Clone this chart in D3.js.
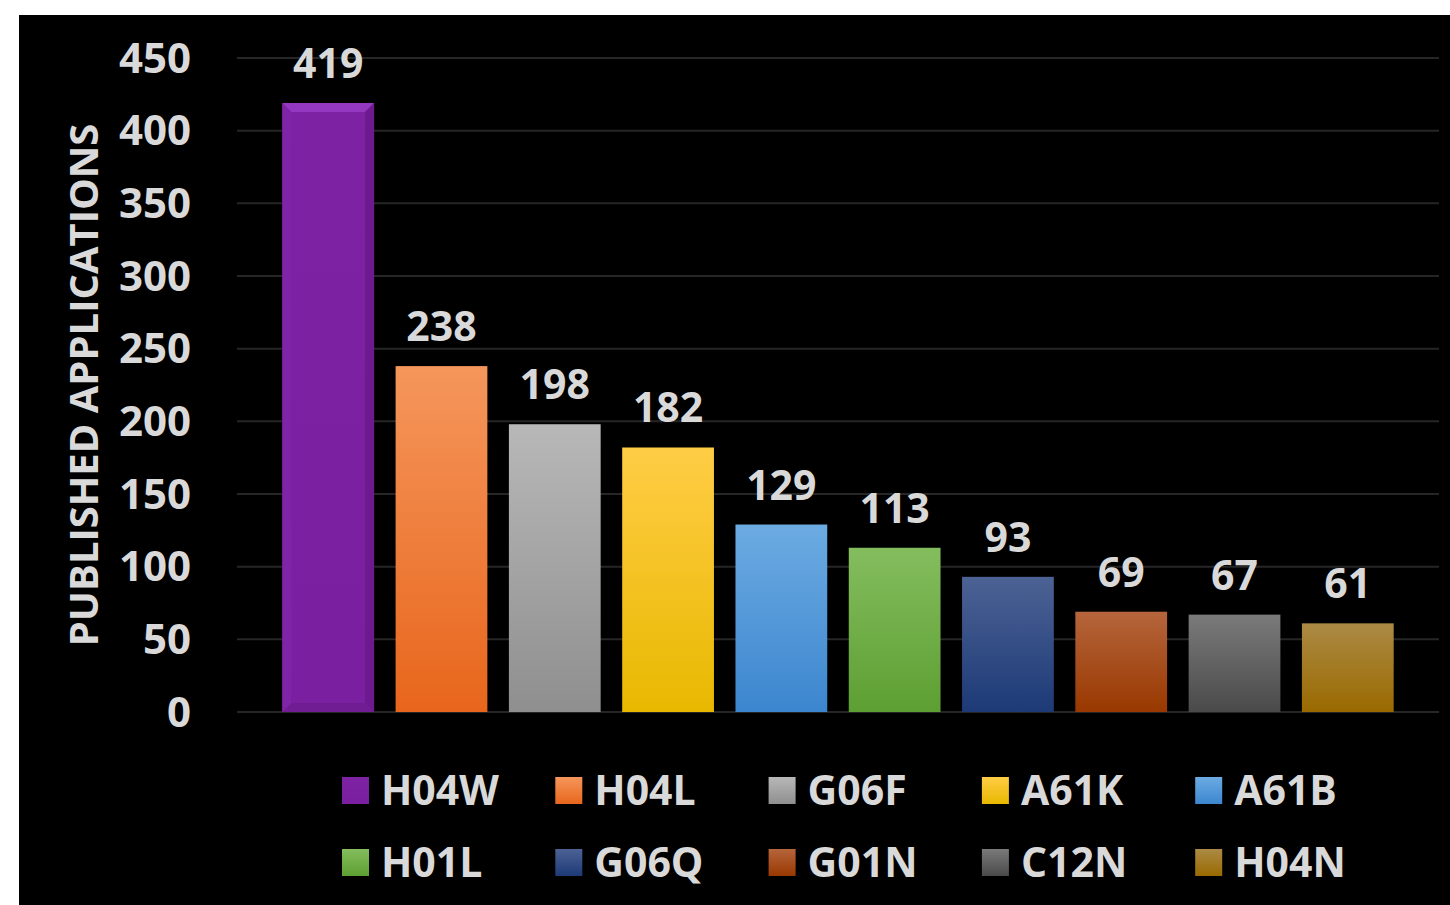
<!DOCTYPE html>
<html>
<head>
<meta charset="utf-8">
<script src="https://cdn.jsdelivr.net/npm/d3@7"></script>
<style>
  html, body { margin: 0; padding: 0; background: #fff; }
  svg text { font-family: "Open Sans", "DejaVu Sans", sans-serif; font-weight: 700; fill: #d9d9d9; }
</style>
</head>
<body>
<svg id="chart" width="1450" height="905"></svg>
<script>
// chart data
var categories = ["H04W", "H04L", "G06F", "A61K", "A61B", "H01L", "G06Q", "G01N", "C12N", "H04N"];
var values = [419, 238, 198, 182, 129, 113, 93, 69, 67, 61];
var yTicks = [0, 50, 100, 150, 200, 250, 300, 350, 400, 450];
var yTitle = "PUBLISHED APPLICATIONS";
// top / bottom colour of each bar's gradient
var colorTop = ["#7d22a3", "#f5965c", "#b8b8b8", "#ffcd45", "#6cabe2", "#84bd5e", "#4c6294", "#b5653c", "#7a7a7a", "#ab8a45"];
var colorBottom = ["#7a1f9f", "#e8661c", "#8f8f8f", "#e8b800", "#3c86cf", "#5d9f32", "#1d3a77", "#993800", "#4a4a4a", "#9a6a00"];

var svg = d3.select("#chart");
var margin = {top: 58, left: 237, right: 1439, bottom: 712};

// black background panel
svg.append("rect")
    .attr("x", 19).attr("y", 15)
    .attr("width", 1450 - 19).attr("height", 905 - 15)
    .attr("fill", "#000");

var defs = svg.append("defs");
categories.forEach(function(c, i){
    var g = defs.append("linearGradient")
        .attr("id", "grad" + i)
        .attr("x1", 0).attr("y1", 0).attr("x2", 0).attr("y2", 1);
    g.append("stop").attr("offset", "0%").attr("stop-color", colorTop[i]);
    g.append("stop").attr("offset", "100%").attr("stop-color", colorBottom[i]);
});

var x = d3.scaleBand()
    .domain(categories)
    .range([margin.left, margin.right])
    .paddingInner(0.19)
    .paddingOuter(0.4);

var y = d3.scaleLinear()
    .domain([0, 450])
    .range([margin.bottom, margin.top]);

// gridlines
svg.append("g")
    .selectAll("line")
    .data(yTicks)
    .enter().append("line")
    .attr("x1", margin.left).attr("x2", margin.right)
    .attr("y1", function(d){ return y(d); })
    .attr("y2", function(d){ return y(d); })
    .attr("stroke", "#262626")
    .attr("stroke-width", 2);

// y axis labels
var yAxis = d3.axisLeft(y).tickValues(yTicks).tickSize(0).tickPadding(0);
var ya = svg.append("g")
    .attr("transform", "translate(191,0)")
    .call(yAxis);
ya.select(".domain").remove();
ya.selectAll("text")
    .attr("fill", "#d9d9d9")
    .style("font-size", "42px")
    .attr("dy", "0.34em");

// y axis title
svg.append("text")
    .attr("transform", "translate(98," + ((margin.top + margin.bottom) / 2 + 0) + ") rotate(-90)")
    .attr("text-anchor", "middle")
    .style("font-size", "40px")
    .text(yTitle);

// bars
svg.append("g")
    .selectAll("rect")
    .data(values)
    .enter().append("rect")
    .attr("x", function(d, i){ return x(categories[i]); })
    .attr("y", function(d){ return y(d); })
    .attr("width", x.bandwidth())
    .attr("height", function(d){ return y(0) - y(d); })
    .attr("fill", function(d, i){ return "url(#grad" + i + ")"; });

// bevel on the first bar
var bx = x(categories[0]), bw = x.bandwidth(), by = y(values[0]), bh = y(0) - y(values[0]), bv = 9;
var bevel = svg.append("g");
bevel.append("polygon")
    .attr("points", [[bx, by], [bx + bw, by], [bx + bw - bv, by + bv], [bx + bv, by + bv]].join(" "))
    .attr("fill", "#9438c2");
bevel.append("polygon")
    .attr("points", [[bx + bw, by], [bx + bw, by + bh], [bx + bw - bv, by + bh - bv], [bx + bw - bv, by + bv]].join(" "))
    .attr("fill", "#6c1a8e");
bevel.append("polygon")
    .attr("points", [[bx, by + bh], [bx + bw, by + bh], [bx + bw - bv, by + bh - bv], [bx + bv, by + bh - bv]].join(" "))
    .attr("fill", "#701c93");
bevel.append("polygon")
    .attr("points", [[bx, by], [bx + bv, by + bv], [bx + bv, by + bh - bv], [bx, by + bh]].join(" "))
    .attr("fill", "#7f24a6");

// value labels
svg.append("g")
    .selectAll("text")
    .data(values)
    .enter().append("text")
    .attr("x", function(d, i){ return x(categories[i]) + x.bandwidth() / 2; })
    .attr("y", function(d){ return y(d) - 25; })
    .attr("text-anchor", "middle")
    .style("font-size", "41px")
    .text(function(d){ return d; });

// legend
var legend = svg.append("g")
    .selectAll("g")
    .data(categories)
    .enter().append("g")
    .attr("transform", function(d, i){
        return "translate(" + (342 + (i % 5) * 213.3) + "," + (777 + Math.floor(i / 5) * 72) + ")";
    });

legend.append("rect")
    .attr("width", 27).attr("height", 27)
    .attr("fill", function(d, i){ return "url(#grad" + i + ")"; });

legend.append("text")
    .attr("x", 39)
    .attr("y", 13.5)
    .attr("dy", "0.36em")
    .style("font-size", "41px")
    .text(function(d){ return d; });
</script>
</body>
</html>
